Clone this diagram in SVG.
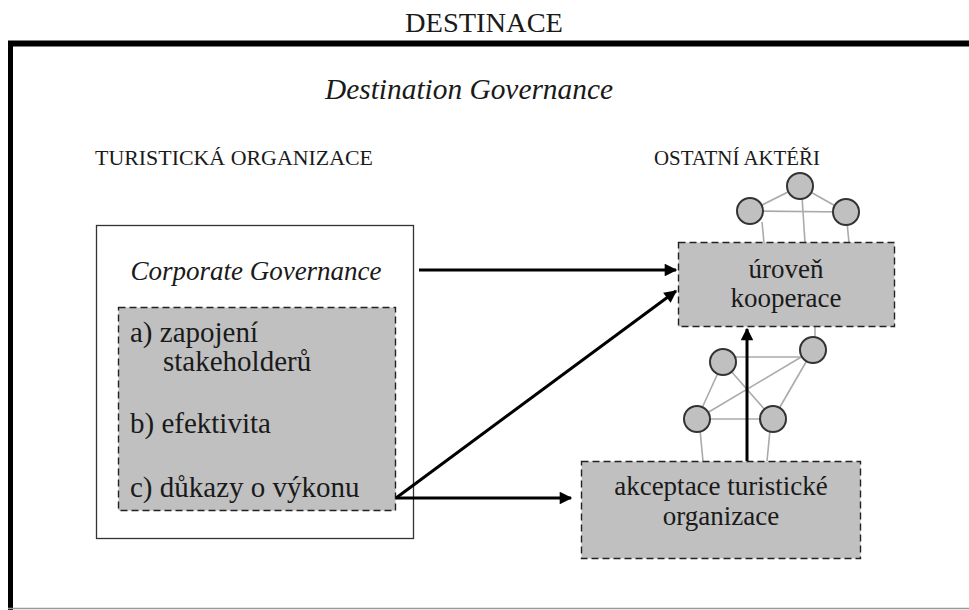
<svg xmlns="http://www.w3.org/2000/svg" width="969" height="610" viewBox="0 0 969 610">
<style>
text{font-family:"Liberation Serif","Times New Roman",serif;fill:#1a1a1a}
.t{font-size:29px}
.t2{font-size:27px}
.it{font-style:italic}
.box{fill:#c0c0c0;stroke:#222;stroke-width:1.4;stroke-dasharray:7 4}
.net{stroke:#aaa;stroke-width:1.6;fill:none}
.nd{fill:#c0c0c0;stroke:#333;stroke-width:2}
.ar{stroke:#000;stroke-width:3;fill:none;marker-end:url(#ah)}
</style>
<defs>
<marker id="ah" viewBox="0 0 10 10" refX="9" refY="5" markerWidth="5" markerHeight="4.2" markerUnits="strokeWidth" orient="auto">
<path d="M0,0 L10,5 L0,10 z" fill="#000"/>
</marker>
</defs>
<rect width="969" height="610" fill="#fff"/>
<text x="484" y="32" text-anchor="middle" font-size="28" textLength="158" lengthAdjust="spacingAndGlyphs">DESTINACE</text>
<g id="frame">
<line x1="8" y1="43.5" x2="969" y2="43.5" stroke="#000" stroke-width="6"/>
<line x1="10.5" y1="41" x2="10.5" y2="610" stroke="#000" stroke-width="5"/>
<line x1="8" y1="608.5" x2="969" y2="608.5" stroke="#999" stroke-width="1.5"/>
</g>
<text x="469" y="99" text-anchor="middle" font-size="29" class="it" textLength="288" lengthAdjust="spacingAndGlyphs">Destination Governance</text>
<text x="95" y="165" font-size="22" textLength="278" lengthAdjust="spacingAndGlyphs">TURISTICKÁ ORGANIZACE</text>
<text x="654" y="165" font-size="21" textLength="166" lengthAdjust="spacingAndGlyphs">OSTATNÍ AKTÉŘI</text>
<g id="turisticka-organizace">
<rect x="96.5" y="225.5" width="317" height="313" fill="#fff" stroke="#333" stroke-width="1.3"/>
<text x="256" y="280" text-anchor="middle" class="t2 it">Corporate Governance</text>
</g>
<g id="corporate-governance">
<rect x="118.5" y="307.5" width="277" height="203" class="box"/>
<text x="130" y="342" class="t">a) zapojení</text>
<text x="163" y="371" class="t">stakeholderů</text>
<text x="130" y="433" class="t">b) efektivita</text>
<text x="130" y="497" class="t">c) důkazy o výkonu</text>
</g>
<g id="network-top">
<line class="net" x1="750" y1="211" x2="800" y2="186"/>
<line class="net" x1="800" y1="186" x2="846" y2="212"/>
<line class="net" x1="750" y1="211" x2="846" y2="212"/>
<line class="net" x1="762" y1="222" x2="764" y2="243"/>
<line class="net" x1="802" y1="196" x2="805" y2="243"/>
<line class="net" x1="847" y1="222" x2="849" y2="243"/>
<circle class="nd" cx="750" cy="211" r="13"/>
<circle class="nd" cx="800" cy="186" r="13"/>
<circle class="nd" cx="846" cy="212" r="13"/>
</g>
<g id="network-bottom">
<line class="net" x1="723" y1="357" x2="813" y2="357"/>
<line class="net" x1="813" y1="350" x2="697" y2="419"/>
<line class="net" x1="723" y1="362" x2="773" y2="419"/>
<line class="net" x1="723" y1="362" x2="697" y2="419"/>
<line class="net" x1="697" y1="419" x2="773" y2="419"/>
<line class="net" x1="813" y1="350" x2="773" y2="419"/>
<line class="net" x1="700" y1="430" x2="703" y2="461"/>
<line class="net" x1="770" y1="430" x2="767" y2="461"/>
<line class="net" x1="815" y1="338" x2="815" y2="327"/>
<circle class="nd" cx="723" cy="362" r="13"/>
<circle class="nd" cx="813" cy="350" r="13"/>
<circle class="nd" cx="697" cy="419" r="13"/>
<circle class="nd" cx="773" cy="419" r="13"/>
</g>
<g id="uroven-kooperace">
<rect x="678.5" y="242.5" width="216" height="84" class="box"/>
<text x="786" y="278" text-anchor="middle" class="t2">úroveň</text>
<text x="786" y="307" text-anchor="middle" class="t2">kooperace</text>
</g>
<g id="akceptace">
<rect x="581.5" y="461.5" width="279" height="97" class="box"/>
<text x="721" y="495" text-anchor="middle" class="t2">akceptace turistické</text>
<text x="721" y="525" text-anchor="middle" class="t2">organizace</text>
</g>
<g id="connectors">
<line class="ar" x1="419" y1="270" x2="676" y2="270"/>
<line class="ar" x1="396" y1="498" x2="676" y2="291"/>
<line class="ar" x1="396" y1="498" x2="571" y2="498"/>
<line class="ar" x1="747" y1="461" x2="747" y2="329"/>
</g>
</svg>
